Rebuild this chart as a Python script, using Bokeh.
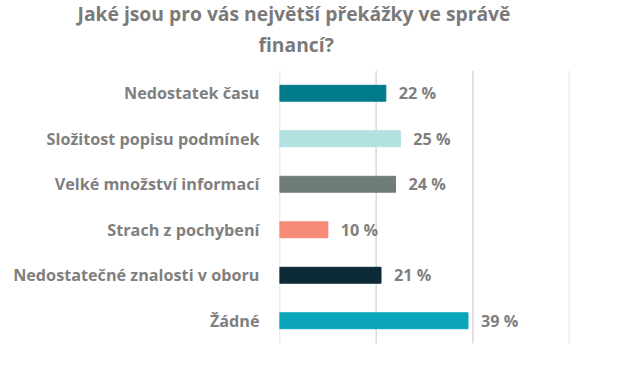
from bokeh.plotting import figure
from bokeh.models import FactorRange, Range1d, ColumnDataSource, Span, Title
from bokeh.core.properties import value
from bokeh.embed import file_html
from bokeh.resources import INLINE

categories = ["Nedostatek času", "Složitost popisu podmínek", "Velké množství informací",
              "Strach z pochybení", "Nedostatečné znalosti v oboru", "Žádné"]
values = [22, 25, 24, 10, 21, 39]
colors = ["#007B8A", "#B3E0E0", "#6F7C79", "#F68B78", "#0C2A36", "#0BA6BA"]
labels = [f"{v} %" for v in values]
x_ticks = [0, 20, 40, 60]
title_lines = ["Jaké jsou pro vás největší překážky ve správě", "financí?"]

FONT = "Open Sans"
GRAY = "#7F7F7F"
LABEL_SIZE = "16.2px"

src = ColumnDataSource(dict(cat=categories, val=values, color=colors, label=labels))

p = figure(width=604, height=374, output_backend="svg", toolbar_location=None, title=None,
           y_range=FactorRange(*categories[::-1], range_padding=0),
           x_range=Range1d(0, 60),
           min_border_left=279, min_border_right=35, min_border_top=70, min_border_bottom=31)

for t in x_ticks:
    p.add_layout(Span(location=t, dimension="height", line_color="#D9D9D9",
                      line_width=1.5, level="underlay"))

p.hbar(y="cat", right="val", left=0, height=0.35, color="color", source=src)
p.text(x="val", y="cat", text="label", source=src, x_offset=13,
       text_align="left", text_baseline="middle",
       text_font=value(FONT), text_font_style="bold", text_font_size=LABEL_SIZE,
       text_color=GRAY)

p.xaxis.visible = False
p.xgrid.grid_line_color = None
p.ygrid.grid_line_color = None
p.outline_line_color = None

ya = p.yaxis[0]
ya.axis_line_color = None
ya.major_tick_line_color = None
ya.minor_tick_line_color = None
ya.major_tick_in = 0
ya.major_tick_out = 0
ya.major_label_standoff = 20
ya.major_label_text_font = FONT
ya.major_label_text_font_style = "bold"
ya.major_label_text_font_size = LABEL_SIZE
ya.major_label_text_color = GRAY

# two-line title, stacked above the frame (first added sits closest to the frame);
# offsets are relative to the frame's left edge
title_specs = [(title_lines[1], -21, 25), (title_lines[0], -202, -20)]
for line, off, so in title_specs:
    p.add_layout(Title(text=line, align="left", offset=off, standoff=so,
                       text_font=FONT, text_font_style="bold", text_font_size="19.3px",
                       text_color="#7A7A7A"), "above")

open("out.html", "w").write(file_html(p, INLINE))
